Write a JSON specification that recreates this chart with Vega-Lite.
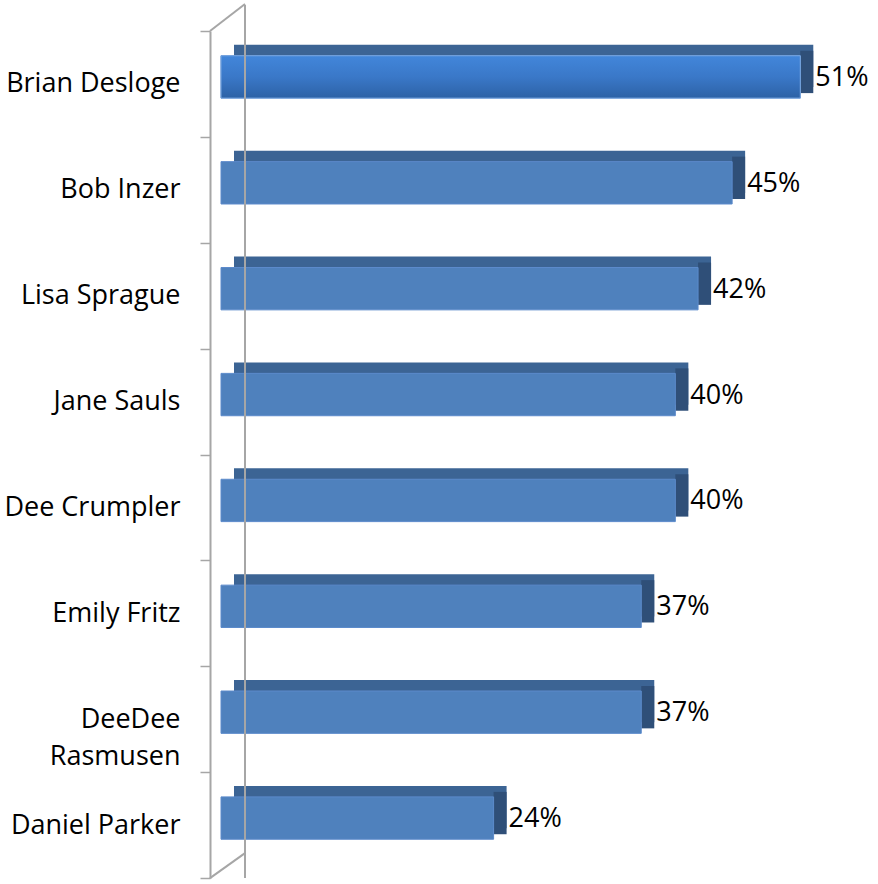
{
  "$schema": "https://vega.github.io/schema/vega-lite/v6.json",
  "autosize": {"type": "none"},
  "width": 602,
  "height": 847,
  "padding": {"left": 221, "top": 31, "right": 55, "bottom": 6},
  "background": "white",
  "config": {"view": {"stroke": null}, "font": "Open Sans"},
  "datasets": {
    "scores": [
      {"name": "Brian Desloge", "value": 0.51},
      {"name": "Bob Inzer", "value": 0.45},
      {"name": "Lisa Sprague", "value": 0.42},
      {"name": "Jane Sauls", "value": 0.40},
      {"name": "Dee Crumpler", "value": 0.40},
      {"name": "Emily Fritz", "value": 0.37},
      {"name": "DeeDee Rasmusen", "value": 0.37},
      {"name": "Daniel Parker", "value": 0.24}
    ]
  },
  "data": {"name": "scores"},
  "layer": [
    {
      "mark": {"type": "bar", "height": {"band": 0.4}, "xOffset": 13, "yOffset": -18, "color": "#3C6494"},
      "encoding": {
        "y": {
          "field": "name", "type": "nominal", "sort": null,
          "scale": {"paddingInner": 0, "paddingOuter": 0},
          "axis": {
            "title": null, "offset": 11, "domainColor": "#A6A6A6", "domainWidth": 2,
            "tickColor": "#A6A6A6", "tickWidth": 1.5, "tickSize": 10, "tickBand": "extent",
            "labelFontSize": 27, "labelColor": "#000000", "labelPadding": 20, "labelFont": "Open Sans",
            "labelExpr": "datum.value == 'DeeDee Rasmusen' ? ['DeeDee\u00a0\u00a0', 'Rasmusen'] : datum.value",
            "labelLineHeight": 37
          }
        },
        "x": {"field": "value", "type": "quantitative", "scale": {"domain": [0, 0.53], "nice": false, "zero": true}, "axis": null}
      }
    },
    {
      "mark": {"type": "bar", "height": {"band": 0.4}, "yOffset": -12, "x2Offset": 13, "color": "#2F4F78"},
      "encoding": {
        "y": {"field": "name", "type": "nominal", "sort": null},
        "x": {"field": "value", "type": "quantitative", "scale": {"domain": [0, 0.53], "nice": false}},
        "x2": {"field": "value"}
      }
    },
    {
      "mark": {"type": "bar", "height": {"band": 0.4}, "yOffset": -7, "stroke": "#5C8ACB", "strokeWidth": 1, "color": "#4F81BD"},
      "encoding": {
        "y": {"field": "name", "type": "nominal", "sort": null},
        "x": {"field": "value", "type": "quantitative", "scale": {"domain": [0, 0.53], "nice": false}}
      }
    },
    {
      "transform": [{"filter": "datum.name == 'Brian Desloge'"}],
      "mark": {"type": "bar", "height": {"band": 0.4}, "yOffset": -7, "stroke": "#7AA7E0", "strokeWidth": 1,
        "color": {"x1": 0, "y1": 0, "x2": 0, "y2": 1, "gradient": "linear",
          "stops": [{"offset": 0, "color": "#4286DA"}, {"offset": 0.5, "color": "#3A78C8"}, {"offset": 1, "color": "#2D62A6"}]}},
      "encoding": {
        "y": {"field": "name", "type": "nominal", "sort": null},
        "x": {"field": "value", "type": "quantitative", "scale": {"domain": [0, 0.53], "nice": false}}
      }
    },
    {
      "mark": {"type": "text", "align": "left", "baseline": "middle", "dx": 15, "dy": -6, "fontSize": 27, "font": "Open Sans", "color": "#000000"},
      "encoding": {
        "y": {"field": "name", "type": "nominal", "sort": null},
        "x": {"field": "value", "type": "quantitative", "scale": {"domain": [0, 0.53], "nice": false}},
        "text": {"field": "value", "type": "quantitative", "format": ".0%"}
      }
    },
    {
      "data": {"values": [{}]},
      "mark": {"type": "rule", "color": "#A6A6A6", "strokeWidth": 2, "xOffset": 24, "yOffset": -26},
      "encoding": {"x": {"datum": 0, "scale": {"domain": [0, 0.53], "nice": false}}}
    },
    {
      "data": {"values": [{}]},
      "mark": {"type": "rule", "color": "#A6A6A6", "strokeWidth": 2, "xOffset": -11, "x2Offset": 24, "yOffset": -53, "y2Offset": -80},
      "encoding": {
        "x": {"datum": 0}, "x2": {"datum": 0},
        "y": {"datum": "Brian Desloge"}, "y2": {"datum": "Brian Desloge"}
      }
    },
    {
      "data": {"values": [{}]},
      "mark": {"type": "rule", "color": "#A6A6A6", "strokeWidth": 2, "xOffset": -11, "x2Offset": 24, "yOffset": 53, "y2Offset": 28},
      "encoding": {
        "x": {"datum": 0}, "x2": {"datum": 0},
        "y": {"datum": "Daniel Parker"}, "y2": {"datum": "Daniel Parker"}
      }
    }
  ]
}
